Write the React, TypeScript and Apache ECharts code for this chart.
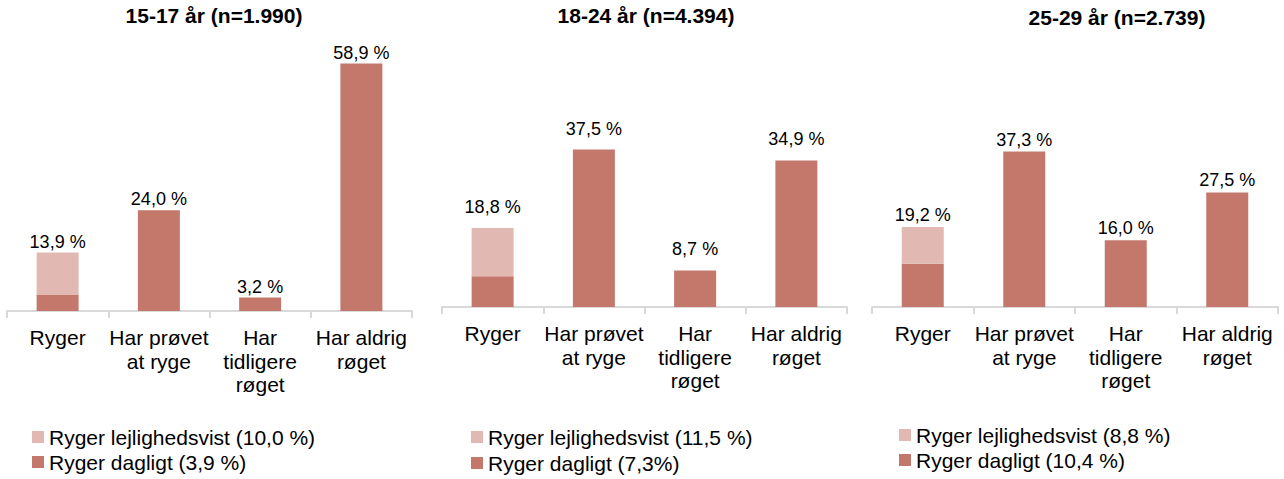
import React, { useEffect, useRef } from "react";
import * as echarts from "echarts";

const categories = ["Ryger", "Har prøvet\nat ryge", "Har\ntidligere\nrøget", "Har aldrig\nrøget"];
const panelTitles = ["15-17 år (n=1.990)", "18-24 år (n=4.394)", "25-29 år (n=2.739)"];
const dailySmokers = [3.9, 7.3, 10.4];
const occasionalSmokers = [10.0, 11.5, 8.8];
const smokerTotals = [13.9, 18.8, 19.2];
const triedValues = [24.0, 37.5, 37.3];
const formerValues = [3.2, 8.7, 16.0];
const neverValues = [58.9, 34.9, 27.5];
const legendOccasional = ["Ryger lejlighedsvist (10,0 %)", "Ryger lejlighedsvist (11,5 %)", "Ryger lejlighedsvist (8,8 %)"];
const legendDaily = ["Ryger dagligt (3,9 %)", "Ryger dagligt (7,3%)", "Ryger dagligt (10,4 %)"];

const DARK = "#c4786c";
const LIGHT = "#e1b9b2";
const FONT = "'Liberation Sans', Arial, sans-serif";

const grids = [
  { left: 7, width: 405, top: 59, height: 252 },
  { left: 442, width: 405, top: 55, height: 252 },
  { left: 872, width: 406, top: 57, height: 250 },
];
const titlePos = [
  { left: 214, top: 5 },
  { left: 646, top: 5 },
  { left: 1117, top: 7 },
];
const legendPos = [
  { left: 32, top: 426, gap: 3 },
  { left: 471, top: 426, gap: 4 },
  { left: 899, top: 424, gap: 3 },
];
const labelDist = [2, 12, 3];

const fmt = (v: number) => v.toFixed(1).replace(".", ",") + " %";

export default function App() {
  const ref = useRef<HTMLDivElement>(null);
  useEffect(() => {
    if (!ref.current) return;
    const chart = echarts.init(ref.current, null, { renderer: "svg" });
    const series: any[] = [];
    panelTitles.forEach((_, p) => {
      const common = {
        type: "bar",
        xAxisIndex: p,
        yAxisIndex: p,
        stack: "s" + p,
        barWidth: 42,
      };
      const lbl = {
        show: true,
        position: "top",
        distance: labelDist[p],
        fontSize: 18,
        color: "#000",
        fontFamily: FONT,
      };
      series.push({
        ...common,
        name: legendDaily[p],
        data: [dailySmokers[p], "-", "-", "-"],
        itemStyle: { color: DARK },
      });
      series.push({
        ...common,
        name: legendOccasional[p],
        data: [occasionalSmokers[p], "-", "-", "-"],
        itemStyle: { color: LIGHT },
        label: { ...lbl, formatter: () => fmt(smokerTotals[p]) },
      });
      series.push({
        ...common,
        name: "other" + p,
        data: ["-", triedValues[p], formerValues[p], neverValues[p]],
        itemStyle: { color: DARK },
        label: { ...lbl, formatter: (d: any) => fmt(d.value) },
      });
    });
    chart.setOption({
      animation: false,
      title: panelTitles.map((t, p) => ({
        text: t,
        left: titlePos[p].left,
        top: titlePos[p].top,
        textAlign: "center",
        padding: 0,
        textStyle: { fontSize: 21, fontWeight: "bold", color: "#000", fontFamily: FONT },
      })),
      legend: panelTitles.map((_, p) => ({
        orient: "vertical",
        left: legendPos[p].left,
        top: legendPos[p].top,
        padding: 0,
        itemGap: legendPos[p].gap,
        itemWidth: 12,
        itemHeight: 12,
        icon: "rect",
        selectedMode: false,
        data: [legendOccasional[p], legendDaily[p]],
        textStyle: { fontSize: 21, lineHeight: 22, color: "#000", fontFamily: FONT },
      })),
      grid: grids,
      xAxis: grids.map((_, p) => ({
        type: "category",
        gridIndex: p,
        data: categories,
        axisLine: { lineStyle: { color: "#d9d9d9", width: 2 } },
        axisTick: { show: true, length: 7, lineStyle: { color: "#d9d9d9", width: 2 } },
        axisLabel: {
          interval: 0,
          margin: 15,
          fontSize: 21,
          lineHeight: 23.5,
          color: "#000",
          fontFamily: FONT,
        },
      })),
      yAxis: grids.map((_, p) => ({
        type: "value",
        gridIndex: p,
        min: 0,
        max: 60,
        show: false,
        splitLine: { show: false },
      })),
      series,
    });
    return () => chart.dispose();
  }, []);
  return (
    <div
      ref={ref}
      style={{ position: "absolute", left: 0, top: 0, width: 1284, height: 479, background: "#fff" }}
    />
  );
}
